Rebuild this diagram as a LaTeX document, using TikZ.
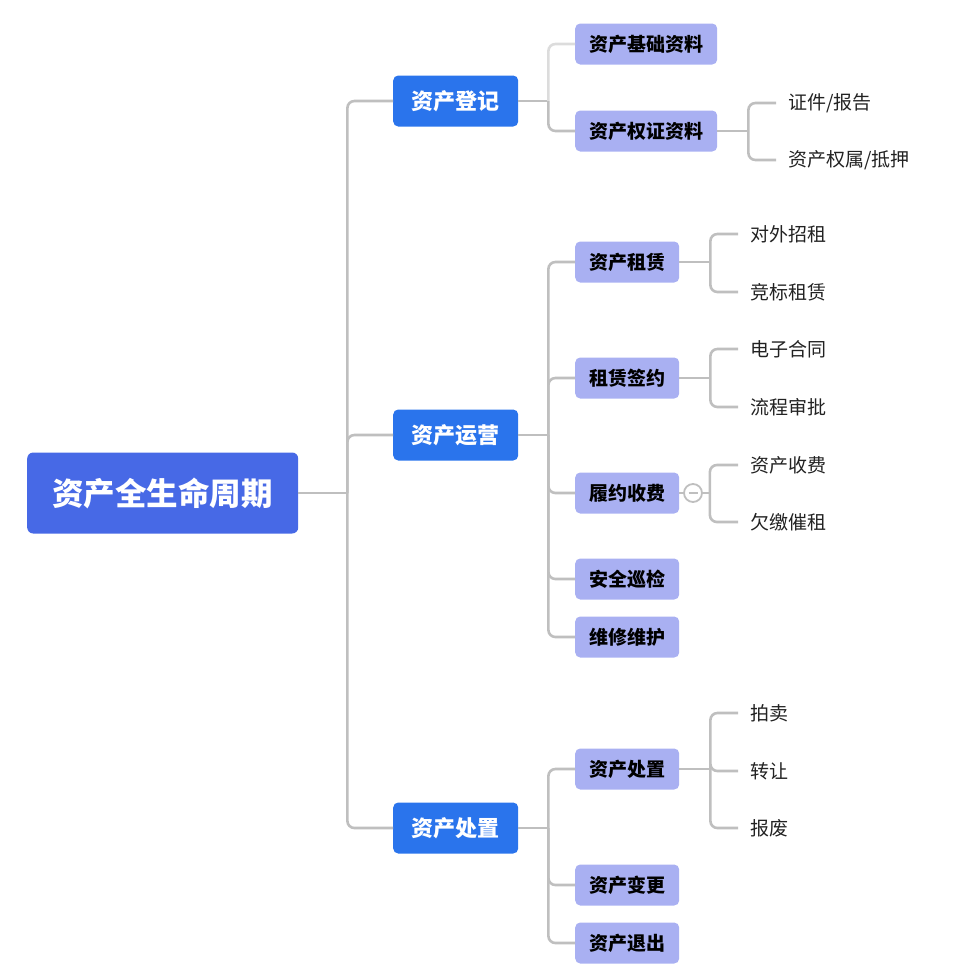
\documentclass[tikz,border=0pt]{standalone}
\usepackage{fontspec}
\setmainfont{Noto Sans CJK SC}
\usetikzlibrary{positioning,calc}

\definecolor{rootblue}{HTML}{4769E6}
\definecolor{stageblue}{HTML}{2A74EC}
\definecolor{itemblue}{HTML}{A9B0F2}
\definecolor{linegray}{HTML}{BFBFBF}
\definecolor{leaftext}{HTML}{222222}

\tikzset{
  root/.style={fill=rootblue, text=white, rounded corners=6pt, font=\bfseries\fontsize{31.5}{33}\selectfont,
    minimum width=271pt, minimum height=81pt, inner sep=0pt, anchor=west},
  stage/.style={fill=stageblue, text=white, rounded corners=5pt, font=\bfseries\fontsize{22}{24}\selectfont,
    minimum width=125pt, minimum height=51pt, inner sep=0pt, anchor=west},
  item/.style={fill=itemblue, text=black, rounded corners=5pt, font=\bfseries\fontsize{19}{21}\selectfont,
    inner xsep=14pt, minimum height=41pt, inner ysep=0pt, anchor=west},
  leaf/.style={text=leaftext, font=\fontsize{19}{21}\selectfont, inner sep=0pt, anchor=west},
  conn/.style={draw=linegray, line width=2.6pt, rounded corners=7pt},
}

\begin{document}
\begin{tikzpicture}[x=1pt, y=-1pt]
  \useasboundingbox (0,0) rectangle (972,967);

  % root and stages
  \node[root] (life) at (27,493) {资产全生命周期};
  \node[stage] (reg) at (393,101) {资产登记};
  \node[stage] (ops) at (393,435) {资产运营};
  \node[stage] (disp) at (393,828) {资产处置};

  % second level
  \node[item] (basic) at (575,44) {资产基础资料};
  \node[item] (right) at (575,131) {资产权证资料};

  \node[item] (lease) at (575,262) {资产租赁};
  \node[item] (sign) at (575,378) {租赁签约};
  \node[item] (fee) at (575,493) {履约收费};
  \node[item] (patrol) at (575,579) {安全巡检};
  \node[item] (repair) at (575,637) {维修维护};

  \node[item] (handle) at (575,769) {资产处置};
  \node[item] (change) at (575,885) {资产变更};
  \node[item] (quit) at (575,943) {资产退出};

  % leaves
  \node[leaf] (cert) at (788,103) {证件/报告};
  \node[leaf] (owner) at (788,160) {资产权属/抵押};

  \node[leaf] (open) at (750,234) {对外招租};
  \node[leaf] (bid) at (750,292) {竞标租赁};
  \node[leaf] (econ) at (750,349) {电子合同};
  \node[leaf] (flow) at (750,407) {流程审批};
  \node[leaf] (charge) at (750,465) {资产收费};
  \node[leaf] (dun) at (750,522) {欠缴催租};

  \node[leaf] (auction) at (750,713) {拍卖};
  \node[leaf] (transfer) at (750,771) {转让};
  \node[leaf] (scrap) at (750,828) {报废};

  % collapse button
  \node[circle, draw=linegray, line width=1.8pt, fill=white, minimum size=18pt, inner sep=0pt] (fold) at (693,493) {};
  \draw[linegray, line width=1.6pt] ([xshift=-4.5pt]fold.center) -- ([xshift=4.5pt]fold.center);

  % junctions
  \coordinate (jlife) at ([xshift=49pt]life.east);
  \coordinate (jreg) at ([xshift=30pt]reg.east);
  \coordinate (jops) at ([xshift=30pt]ops.east);
  \coordinate (jdisp) at ([xshift=30pt]disp.east);
  \coordinate (jright) at ([xshift=31pt]right.east);
  \coordinate (jlease) at ([xshift=31pt]lease.east);
  \coordinate (jsign) at ([xshift=31pt]sign.east);
  \coordinate (jfee) at ([xshift=7pt]fold.east);
  \coordinate (jhandle) at ([xshift=31pt]handle.east);

  % root to stages
  \draw[conn] (life.east) -- (jlife);
  \foreach \s in {reg,ops,disp}
    \draw[conn] (jlife) |- (\s.west);

  % stages to items
  \draw[conn] (reg.east) -- (jreg);
  \draw[conn, draw=linegray!55] (jreg) |- (basic.west);
  \draw[conn] (jreg) |- (right.west);
  \draw[conn] (ops.east) -- (jops);
  \foreach \s in {lease,sign,fee,patrol,repair}
    \draw[conn] (jops) |- (\s.west);
  \draw[conn] (disp.east) -- (jdisp);
  \foreach \s in {handle,change,quit}
    \draw[conn] (jdisp) |- (\s.west);

  % items to leaves
  \draw[conn] (right.east) -- (jright);
  \foreach \s in {cert,owner}
    \draw[conn] (jright) |- ([xshift=-12pt]\s.west);
  \draw[conn] (lease.east) -- (jlease);
  \foreach \s in {open,bid}
    \draw[conn] (jlease) |- ([xshift=-12pt]\s.west);
  \draw[conn] (sign.east) -- (jsign);
  \foreach \s in {econ,flow}
    \draw[conn] (jsign) |- ([xshift=-12pt]\s.west);
  \draw[conn] (fee.east) -- (fold.west);
  \draw[conn] (fold.east) -- (jfee);
  \foreach \s in {charge,dun}
    \draw[conn] (jfee) |- ([xshift=-12pt]\s.west);
  \draw[conn] (handle.east) -- (jhandle);
  \foreach \s in {auction,transfer,scrap}
    \draw[conn] (jhandle) |- ([xshift=-12pt]\s.west);
\end{tikzpicture}
\end{document}
